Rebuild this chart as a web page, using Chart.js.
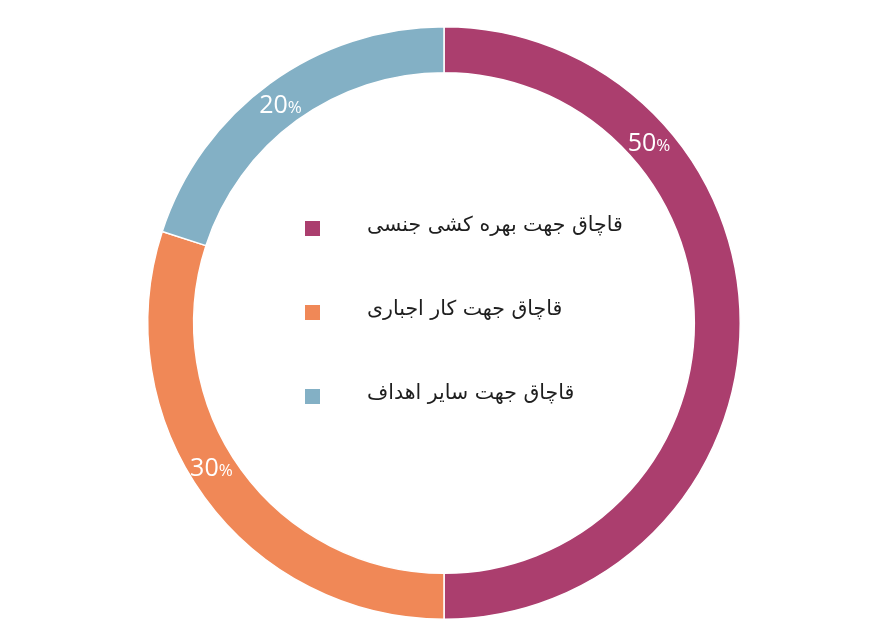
<!DOCTYPE html>
<html>
<head>
<meta charset="utf-8">
<script src="https://cdn.jsdelivr.net/npm/chart.js@4"></script>
<style>
  html, body { margin: 0; padding: 0; background: #fff; }
  #wrap { width: 884px; height: 637px; position: relative; }
</style>
</head>
<body>
<div id="wrap"><canvas id="chart"></canvas></div>
<script>
// data
const categories = ['قاچاق جهت بهره کشی جنسی', 'قاچاق جهت کار اجباری', 'قاچاق جهت سایر اهداف']
const shares = [50, 30, 20]
const sliceColors = ['#AB3E6E', '#F08857', '#83B0C5']

// where along each arc the percentage sits (0 = start, 1 = end)
const labelFrac = [0.27, 0.54, 0.49]

const ringLabels = {
    id: 'ringLabels',
    afterDatasetsDraw(chart) {
        let ctx = chart.ctx
        let arcs = chart.getDatasetMeta(0).data
        ctx.save()
        ctx.fillStyle = '#ffffff'
        ctx.textBaseline = 'alphabetic'
        arcs.forEach((arc, i) => {
            let p = arc.getProps(['x', 'y', 'startAngle', 'endAngle', 'innerRadius', 'outerRadius'], true)
            let a = p.startAngle + labelFrac[i] * (p.endAngle - p.startAngle)
            let r = (p.innerRadius + p.outerRadius) / 2
            let x = p.x + Math.cos(a) * r
            let y = p.y + Math.sin(a) * r
            let num = String(shares[i])
            ctx.font = '500 25px "Open Sans", sans-serif'
            let w1 = ctx.measureText(num).width
            ctx.font = '500 17px "Open Sans", sans-serif'
            let w2 = ctx.measureText('%').width
            let left = x - (w1 + w2) / 2
            ctx.textAlign = 'left'
            ctx.font = '500 25px "Open Sans", sans-serif'
            ctx.fillText(num, left, y + 9)
            ctx.font = '500 17px "Open Sans", sans-serif'
            ctx.fillText('%', left + w1, y + 9)
        })
        ctx.restore()
    }
}

const centerLegend = {
    id: 'centerLegend',
    afterDraw(chart) {
        let ctx = chart.ctx
        let meta = chart.getDatasetMeta(0).data[0]
        let cx = meta.x, cy = meta.y
        ctx.save()
        chart.data.labels.forEach((label, i) => {
            let rowY = cy - 95 + i * 84
            ctx.fillStyle = chart.data.datasets[0].backgroundColor[i]
            ctx.fillRect(cx - 139, rowY - 7, 15, 15)
            ctx.fillStyle = '#1e1e1e'
            ctx.font = '20.5px "DejaVu Sans", sans-serif'
            ctx.textAlign = 'left'
            ctx.textBaseline = 'middle'
            ctx.direction = 'rtl'
            ctx.fillText(label, cx - 77, rowY - 2)
        })
        ctx.restore()
    }
}

new Chart(document.getElementById('chart'), {
    type: 'doughnut',
    data: {
        labels: categories,
        datasets: [{
            data: shares,
            backgroundColor: sliceColors,
            borderColor: '#ffffff',
            borderWidth: 1.5
        }]
    },
    options: {
        responsive: true,
        maintainAspectRatio: false,
        animation: false,
        cutout: '84.5%',
        layout: { padding: { left: 4, right: 0, top: 26, bottom: 17 } },
        plugins: {
            legend: { display: false },
            tooltip: { enabled: false }
        }
    },
    plugins: [ringLabels, centerLegend]
})
</script>
</body>
</html>
